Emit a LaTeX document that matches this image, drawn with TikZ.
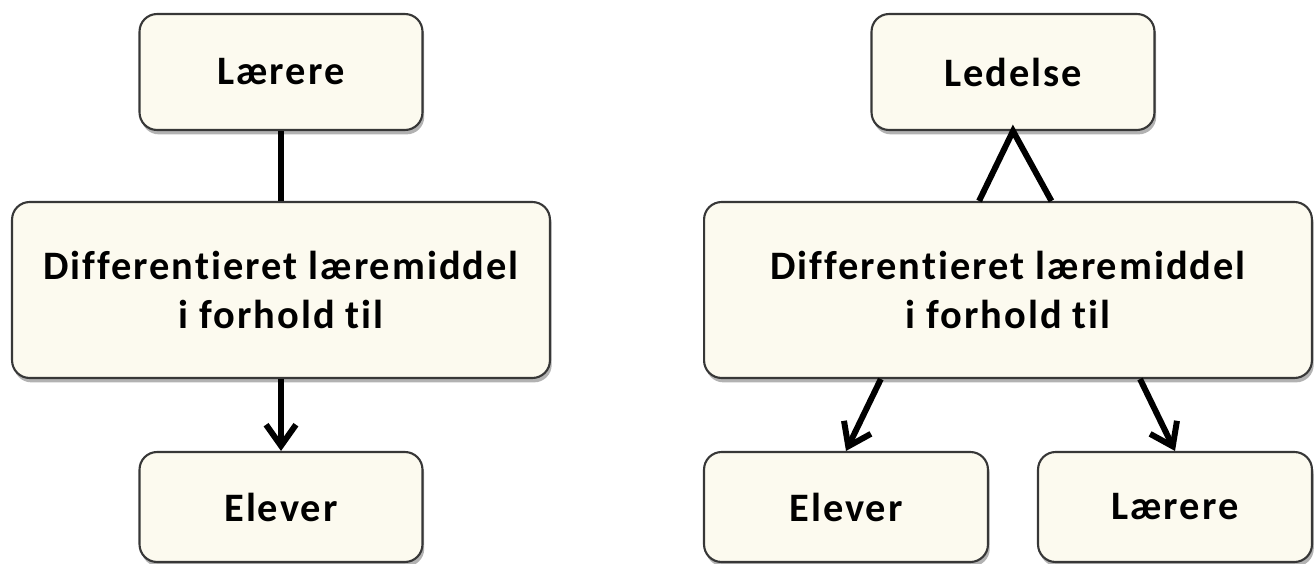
\documentclass[tikz,border=0pt]{standalone}
\usepackage{fontspec}
\setmainfont{Carlito}
\newfontfamily\boksfont[LetterSpace=5,Ligatures=NoCommon]{Carlito}
\usetikzlibrary{arrows.meta,positioning,shadows}
\definecolor{boksfyld}{RGB}{252,250,239}
\definecolor{bokskant}{RGB}{55,55,55}
\tikzset{
  boks/.style={draw=bokskant,line width=1.2pt,fill=boksfyld,rounded corners=10pt,align=center,
    font=\boksfont\bfseries\fontsize{23}{27.5}\selectfont,
    drop shadow={shadow xshift=1pt,shadow yshift=-2.5pt,opacity=0.3,fill=black}},
  forbind/.style={line width=3.4pt,black,line join=miter},
  pil/.style={forbind,-{Straight Barb[length=12pt,width=17pt]}}
}
\begin{document}
\begin{tikzpicture}[x=0.02cm,y=-0.02cm]
\useasboundingbox (0,0) rectangle (1314,564);
% venstre side
\node[boks,minimum width=5.66cm,minimum height=2.32cm] (laerL) at (281,72) {Lærere};
\node[boks,minimum width=10.76cm,minimum height=3.52cm] (midL) at (281,290) {Differentieret læremiddel\\i forhold til};
\node[boks,minimum width=5.66cm,minimum height=2.2cm] (elevL) at (281,507) {Elever};
\draw[forbind] (laerL) -- (midL);
\draw[pil] (midL) -- (elevL);
% hoejre side
\node[boks,minimum width=5.66cm,minimum height=2.32cm] (ledR) at (1013,72) {Ledelse};
\node[boks,minimum width=12.16cm,minimum height=3.52cm] (midR) at (1008,290) {Differentieret læremiddel\\i forhold til};
\node[boks,minimum width=5.68cm,minimum height=2.2cm] (elevR) at (846,507) {Elever};
\node[boks,minimum width=5.48cm,minimum height=2.2cm] (laerR) at (1175,507) {Lærere};
\draw[forbind] (midR.108.8) -- (ledR.south) -- (midR.64.5);
\draw[pil] (midR.215.6) -- (elevR.north);
\draw[pil] (midR.326.7) -- (laerR.north);
\end{tikzpicture}
\end{document}
